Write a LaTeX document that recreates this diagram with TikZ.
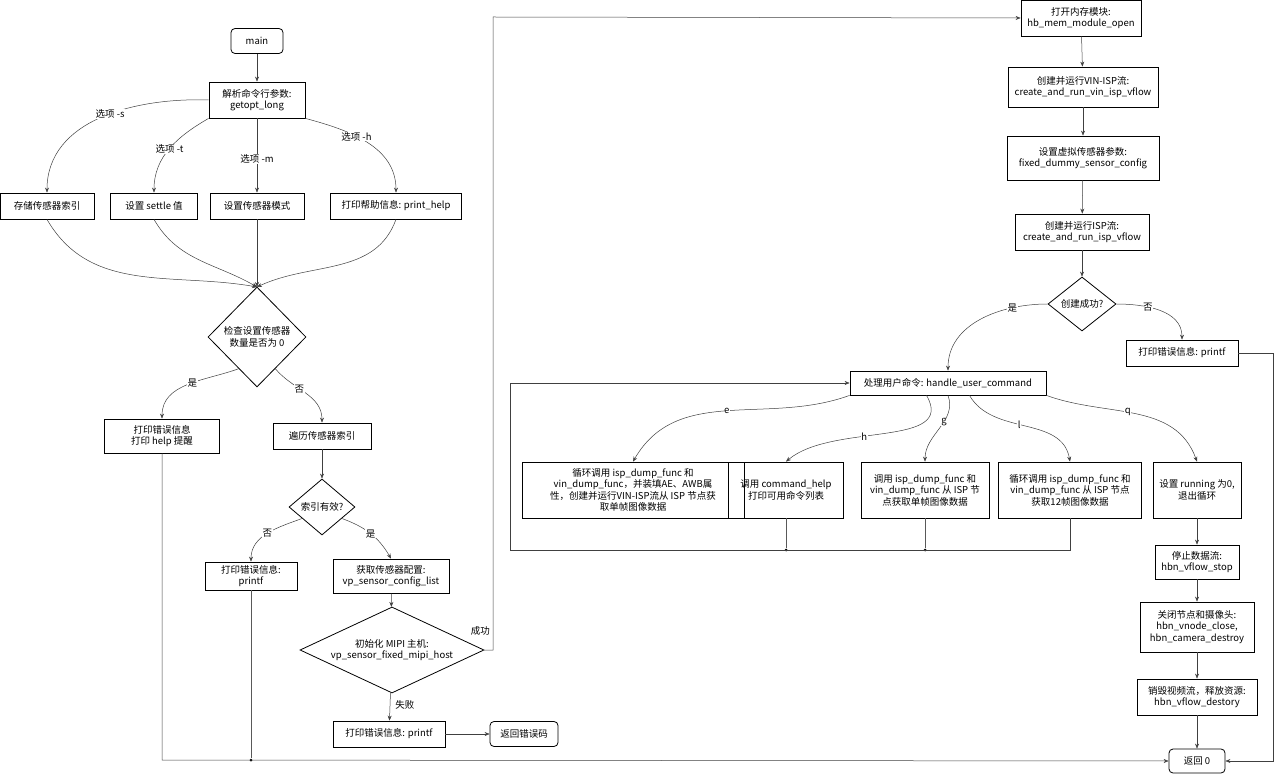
\documentclass[tikz,border=0pt]{standalone}
\usepackage{fontspec}
\setmainfont{Noto Sans CJK SC}
\usetikzlibrary{shapes.geometric,arrows.meta}
\begin{document}
\begin{tikzpicture}[x=1pt,y=-1pt,
  every node/.style={font=\fontsize{9.5}{11.5}\selectfont,inner sep=1pt},
  box/.style={draw,line width=0.8pt,align=center,minimum height=#1},
  box/.default=26,
  term/.style={draw,line width=0.8pt,rounded corners=4pt,align=center,minimum height=25},
  dec/.style={draw,line width=0.8pt,diamond,aspect=#1,align=center,inner sep=0pt},
  arr/.style={-{Stealth[length=5pt,width=4pt]},draw=black!75,line width=0.5pt},
  ln/.style={draw=black!65,line width=0.6pt},
  lab/.style={fill=white,inner sep=0.5pt},
  dot/.style={circle,fill=black,inner sep=0pt,minimum size=3pt}]
\useasboundingbox (0,0) rectangle (1280,775);
% left part
\node[term,minimum width=52] (main) at (257,41) {main};
\node[box=36,minimum width=96] (parse) at (257,100) {解析命令行参数:\\getopt\_long};
\node[box,minimum width=94] (s1) at (47,206) {存储传感器索引};
\node[box,minimum width=87] (s2) at (154,206) {设置 settle 值};
\node[box,minimum width=94] (s3) at (257,206) {设置传感器模式};
\node[box,minimum width=131] (s4) at (396,206) {打印帮助信息: print\_help};
\coordinate (mg) at (257,287);
\node[dec=1,minimum width=98,minimum height=100] (chk) at (257,337) {检查设置传感器\\数量是否为 0};
\node[box=34,minimum width=115] (err1) at (162,436) {打印错误信息\\打印 help 提醒};
\node[box,minimum width=98] (trav) at (322,436) {遍历传感器索引};
\node[dec=1.2,minimum width=66,minimum height=56] (valid) at (322,507) {索引有效?};
\node[box=28,minimum width=92] (err2) at (251,576) {打印错误信息:\\printf};
\node[box=34,minimum width=116] (getcfg) at (391,576) {获取传感器配置:\\vp\_sensor\_config\_list};
\node[dec=2.14,minimum width=184,minimum height=86] (init) at (392,650) {初始化 MIPI 主机:\\vp\_sensor\_fixed\_mipi\_host};
\node[box,minimum width=112] (err3) at (389,734) {打印错误信息: printf};
\node[term,minimum width=68] (ret1) at (524,734) {返回错误码};
% right part
\node[box=36,minimum width=120] (m1) at (1081,18) {打开内存模块:\\hb\_mem\_module\_open};
\node[box=40,minimum width=150] (m2) at (1083,87) {创建并运行VIN-ISP流:\\create\_and\_run\_vin\_isp\_vflow};
\node[box=44,minimum width=152] (m3) at (1083,158) {设置虚拟传感器参数:\\fixed\_dummy\_sensor\_config};
\node[box=36,minimum width=134] (m4) at (1082,232) {创建并运行ISP流:\\create\_and\_run\_isp\_vflow};
\node[dec=1.26,minimum width=68,minimum height=54] (cok) at (1082,304) {创建成功?};
\node[box,minimum width=112] (errR) at (1182,353) {打印错误信息: printf};
\node[box=24,minimum width=196] (hd) at (948,383) {处理用户命令: handle\_user\_command};
\node[box=56,minimum width=222] (c1) at (633,490) {循环调用 isp\_dump\_func 和\\vin\_dump\_func，并装填AE、AWB属\\性，创建并运行VIN-ISP流从 ISP 节点获\\取单帧图像数据};
\node[box=56,minimum width=115] (c2) at (786,490) {调用 command\_help\\打印可用命令列表};
\node[box=56,minimum width=128] (c3) at (925,490) {调用 isp\_dump\_func 和\\vin\_dump\_func 从 ISP 节\\点获取单帧图像数据};
\node[box=56,minimum width=143] (c4) at (1070,490) {循环调用 isp\_dump\_func 和\\vin\_dump\_func 从 ISP 节点\\获取12帧图像数据};
\node[box=56,minimum width=88] (c5) at (1197,490) {设置 running 为0,\\退出循环};
\node[box=34,minimum width=84] (stop) at (1197,562) {停止数据流:\\hbn\_vflow\_stop};
\node[box=50,minimum width=114] (close) at (1197,627) {关闭节点和摄像头:\\hbn\_vnode\_close,\\hbn\_camera\_destroy};
\node[box=36,minimum width=120] (destroy) at (1197,697) {销毁视频流，释放资源:\\hbn\_vflow\_destory};
\node[term,minimum width=56,minimum height=24] (ret0) at (1197,761) {返回 0};
% left edges
\draw[arr] (main) -- (parse);
\draw[arr] (parse.west) to[out=178,in=90] node[lab,pos=0.45]{选项 -s} (s1.north);
\draw[arr] (parse.south west) to[out=210,in=90] node[lab,pos=0.5]{选项 -t} (s2.north);
\draw[arr] (parse) -- node[lab,pos=0.55]{选项 -m} (s3);
\draw[arr] (parse.south east) to[out=-15,in=90] node[lab,pos=0.4]{选项 -h} (s4.north);
\draw[arr] (s1.south) to[out=-60,in=170] (mg);
\draw[arr] (s2.south) to[out=-60,in=150] (mg);
\draw[arr] (s3) -- (mg);
\draw[arr] (s4.south) to[out=-110,in=25] (mg);
\draw[arr] (chk.240) to[out=200,in=90] node[lab,pos=0.45]{是} (err1.north);
\draw[arr] (chk.300) to[out=-50,in=90] node[lab,pos=0.4]{否} (trav.north);
\draw[arr] (trav) -- (valid);
\draw[arr] (valid.210) to[out=200,in=90] node[lab,pos=0.5]{否} (err2.north);
\draw[arr] (valid.330) to[out=-20,in=120] node[lab,pos=0.5]{是} (getcfg.north);
\draw[arr] (getcfg) -- (init);
\draw[arr] (init) -- node[right=4pt,pos=0.45]{失败} (err3);
\draw[arr] (err3) -- (ret1);
\draw[arr] (init.east) -- (493,650) -- node[left=2pt,pos=0.03]{成功} (493,17) -- (m1.west);
\node[dot] (d1) at (251,760) {};
\draw[ln] (err2.south) -- (d1);
\draw[arr] (err1.south) -- (162,760) -- (ret0.west);
% right edges
\draw[arr] (m1) -- (m2);
\draw[arr] (m2) -- (m3);
\draw[arr] (m3) -- (m4);
\draw[arr] (m4) -- (cok);
\draw[arr] (cok.west) to[out=180,in=90] node[lab,pos=0.25]{是} (hd.north);
\draw[arr] (cok.east) to[out=0,in=90] node[lab,pos=0.35]{否} (errR.north);
\draw[arr] (errR.east) -- (1273,353) -- (1273,761) -- (ret0.east);
\draw[arr] (hd.south west) to[out=200,in=60] node[lab,pos=0.5]{e} (c1.north);
\draw[arr] (hd.210) to[out=-60,in=40] node[lab,pos=0.6]{h} (c2.north);
\draw[arr] (hd.south) to[out=-70,in=90] node[lab,pos=0.4]{g} (c3.north);
\draw[arr] (hd.330) to[out=-60,in=100] node[lab,pos=0.45]{l} (c4.north);
\draw[arr] (hd.south east) to[out=-20,in=110] node[lab,pos=0.45]{q} (c5.north);
\node[dot] (d2) at (786,550) {};
\node[dot] (d3) at (925,550) {};
\draw[ln] (c2.south) -- (d2);
\draw[ln] (c3.south) -- (d3);
\draw[arr] (c4.south) -- (1070,550) -- (510,550) -- (510,383) -- (hd.west);
\draw[arr] (c5) -- (stop);
\draw[arr] (stop) -- (close);
\draw[arr] (close) -- (destroy);
\draw[arr] (destroy) -- (ret0);
\end{tikzpicture}
\end{document}
